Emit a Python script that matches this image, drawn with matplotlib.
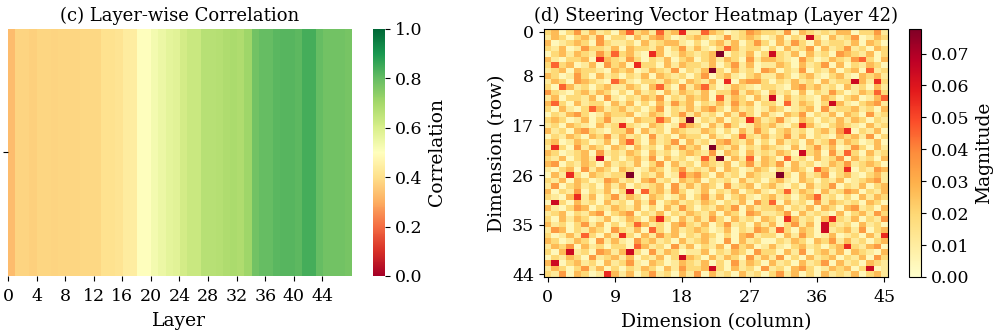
import numpy as np
import matplotlib
matplotlib.use("Agg")
import matplotlib.pyplot as plt

plt.rcParams['font.family'] = ['DejaVu Serif']
plt.rcParams['font.size'] = 12.5

# Panel (c): correlation per layer (48 layers)
layer_corr = [0.33, 0.375, 0.375, 0.37, 0.38, 0.38, 0.375, 0.38, 0.38, 0.38,
              0.385, 0.385, 0.385, 0.41, 0.41, 0.415, 0.44, 0.445, 0.50, 0.50,
              0.53, 0.55, 0.57, 0.575, 0.61, 0.63, 0.63, 0.665, 0.665, 0.67,
              0.68, 0.69, 0.68, 0.71, 0.78, 0.80, 0.80, 0.815, 0.82, 0.82,
              0.81, 0.84, 0.84, 0.80, 0.78, 0.78, 0.78, 0.77]
layer_ticks = list(range(0, 48, 4))

# Panel (d): steering vector magnitudes, 45 rows x 46 columns.
# each digit is a magnitude level
level_values = [0.004, 0.011, 0.019, 0.027, 0.035, 0.045, 0.055, 0.064, 0.071, 0.0777]
steer_levels = [
    "2302413120 3523152361 1532012432 2140321213 302241",
    "1320231402 2031342012 3201412320 1302172031 240132",
    "3012320421 1203123310 2023130242 0314203122 130320",
    "2130142213 0322130241 3102531220 2031240312 412032",
    "0231321425 2310630132 1239021302 7213031204 321302",
    "3102230632 1420213023 0231320413 3210420132 145203",
    "2523013042 3062203132 2130241301 1320312403 021320",
    "1230322103 2301321402 1392031204 3021402130 230512",
    "3201420312 0213032120 2402310231 1320231023 103231",
    "1320432105 3102213203 2130603442 0213120312 273162",
    "2053120231 1320352041 3520132102 2103423120 312031",
    "4210231320 2031203132 1302241320 3120302142 013252",
    "1302213041 0213240213 2305132031 7031210320 230135",
    "3520312203 1302031423 0213142302 2051320273 102341",
    "2031025312 3120240213 1342031201 3201230412 231203",
    "0213420132 2301320241 3120314203 1032402130 320412",
    "2320130241 1032253029 0213021631 2410320213 132021",
    "1203210312 6210320153 2031420132 3102631023 210312",
    "3120342102 2403120321 1320203142 0231202314 602130",
    "0213203241 3120412032 2031025213 1241302103 231402",
    "2301320130 3520312403 1203421302 0312031241 320130",
    "1620413203 2031203142 3092130213 2103024130 142031",
    "3201230412 1320312023 2140320312 1320723041 520312",
    "2130231702 0231403120 1529031503 2051203124 031203",
    "3402132031 2130240312 0321302413 2403120132 412320",
    "1023041320 3201320241 2130320132 0213205312 602143",
    "0316203212 2902130153 4203120321 1920312402 310231",
    "2130320143 1203412032 3021203120 2310320213 012341",
    "1402312031 3021230413 1320412302 3102031240 213023",
    "3021402130 2705231420 1302130231 0251320312 430213",
    "2103613024 1320320130 2413023102 3120235120 203132",
    "0720312031 2031402312 1320213042 5031204132 120320",
    "3102430213 2130203142 0213240312 2302130320 341203",
    "1230213402 3402130213 2130320431 1240312103 023142",
    "2031320130 1320362031 3142031203 2063120362 130214",
    "3120241302 0253120342 1302412031 3024130721 203120",
    "1430213204 2130520312 3201302143 1520320712 314023",
    "2013152031 6203142302 1320203412 2031420130 120316",
    "3201320413 1042312031 2310403120 0213203241 312023",
    "1324031202 2053120413 0213042301 3102312023 621340",
    "2037120431 3720413201 1302132042 2031402313 032103",
    "0213204123 1302130273 2031320413 1402031230 213042",
    "3702312031 2410320132 1302041320 3120312403 120321",
    "1320241302 0213203142 2372031204 1203420132 302701",
    "2140320163 1302412031 4031203120 2413020312 130231",
]
row_ticks = [0, 8, 17, 26, 35, 44]
col_ticks = [0, 9, 18, 27, 36, 45]

steer = np.array([[level_values[int(c)] for c in r.replace(' ', '')]
                  for r in steer_levels])

fig = plt.figure(figsize=(9.96, 3.34), dpi=100)

# left panel
ax1 = fig.add_axes([0.008, 0.1737, 0.3444, 0.7395])
cax1 = fig.add_axes([0.3745, 0.1737, 0.012, 0.7395])
n_layers = len(layer_corr)
im1 = ax1.imshow(np.array([layer_corr]), cmap='RdYlGn', vmin=0, vmax=1,
                 aspect='auto', interpolation='nearest',
                 extent=(0, n_layers, 1, 0))
ax1.set_xticks(layer_ticks)
ax1.set_xticklabels([str(t) for t in layer_ticks])
ax1.set_yticks([0.5])
ax1.set_yticklabels([''])
ax1.tick_params(axis='x', pad=5)
ax1.set_xlabel('Layer', fontsize=13.5, labelpad=5)
ax1.set_title('(c) Layer-wise Correlation', fontsize=13, pad=6)
for s in ax1.spines.values():
    s.set_visible(False)
cb1 = fig.colorbar(im1, cax=cax1)
cb1.outline.set_visible(False)
cb1.set_ticks([0, 0.2, 0.4, 0.6, 0.8, 1.0])
cb1.set_label('Correlation', fontsize=13.5)

# right panel
ax2 = fig.add_axes([0.5462, 0.1707, 0.3454, 0.7425])
cax2 = fig.add_axes([0.9127, 0.1707, 0.0121, 0.7425])
im2 = ax2.imshow(steer, cmap='YlOrRd', vmin=0, vmax=steer.max(),
                 aspect='auto', interpolation='nearest')
ax2.set_xticks(col_ticks)
ax2.set_yticks(row_ticks)
ax2.tick_params(axis='x', pad=5)
ax2.set_xlabel('Dimension (column)', fontsize=13.5, labelpad=5)
ax2.set_ylabel('Dimension (row)', fontsize=13.5)
ax2.set_title('(d) Steering Vector Heatmap (Layer 42)', fontsize=13, pad=6)
cb2 = fig.colorbar(im2, cax=cax2)
cb2.set_ticks([0.0, 0.01, 0.02, 0.03, 0.04, 0.05, 0.06, 0.07])
cb2.set_ticklabels(['0.00', '0.01', '0.02', '0.03', '0.04', '0.05', '0.06', '0.07'])
cb2.set_label('Magnitude', fontsize=13.5)

fig.savefig('out.png', dpi=100)
